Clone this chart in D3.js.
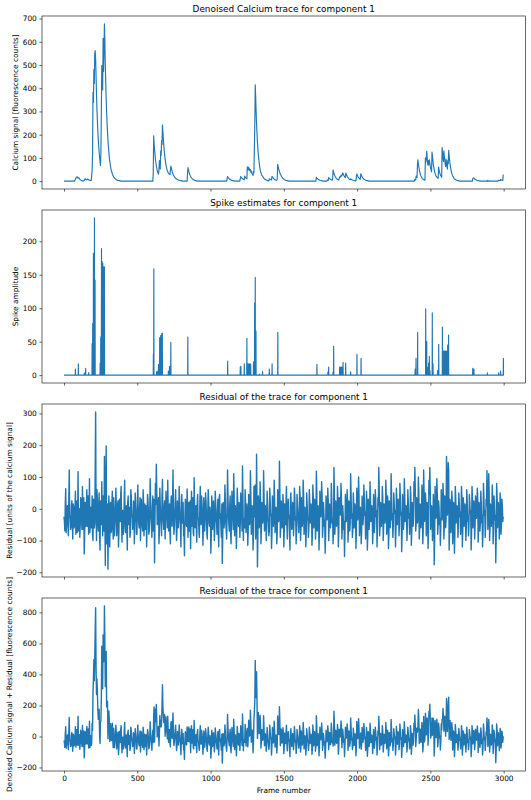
<!DOCTYPE html>
<html>
<head>
<meta charset="utf-8">
<script src="https://cdn.jsdelivr.net/npm/d3@7"></script>
<style>
  html, body { margin: 0; padding: 0; background: #fff; }
  svg { display: block; font-family: "DejaVu Sans", sans-serif; }
</style>
</head>
<body>
<svg id="fig" width="531" height="800"></svg>
<script>
// ---- data ----
const N_FRAMES = 3000;
const RES_STEP = 6; // residual sampled every 6 frames, plus a mid sample at +3

const xTicks = [0, 500, 1000, 1500, 2000, 2500, 3000];
const calciumTicks = [0, 100, 200, 300, 400, 500, 600, 700];
const spikeTicks = [0, 50, 100, 150, 200];
const residualTicks = [-200, -100, 0, 100, 200, 300];
const sumTicks = [-200, 0, 200, 400, 600, 800];

const titles = [
  'Denoised Calcium trace for component 1',
  'Spike estimates for component 1',
  'Residual of the trace for component 1',
  'Residual of the trace for component 1',
];
const yLabels = [
  'Calcium signal [fluorescence counts]',
  'Spike amplitude',
  'Residual [units of the calcium signal]',
  'Denoised Calcium signal + Residual [fluorescence counts]',
];
const xLabel = 'Frame number';

// denoised calcium: [frame, value]; frames not listed sit on the 0 baseline
const calciumPts = [
  [78, 8], [81, 12], [84, 17], [87, 18], [90, 19], [93, 16], [96, 13], [99, 14], [102, 14], [105, 11],
  [108, 8], [111, 6], [114, 5], [117, 4], [120, 3], [126, 1],
  [138, 4], [141, 7], [144, 10], [147, 9], [150, 7], [153, 6], [156, 5], [159, 7], [162, 9], [165, 8],
  [168, 6], [171, 5], [174, 4], [177, 3], [180, 3], [186, 2],
  [192, 45], [195, 120], [198, 382], [201, 338], [204, 480], [207, 420], [210, 550], [213, 562],
  [216, 525], [219, 450], [222, 370], [225, 310], [228, 260], [231, 215], [234, 180], [237, 150],
  [240, 125], [243, 103], [246, 85], [249, 68], [252, 120], [255, 300], [258, 497], [261, 440],
  [264, 393], [267, 615], [270, 472], [273, 560], [276, 677], [279, 600], [282, 500], [285, 420],
  [288, 350], [291, 300], [294, 250], [297, 210], [300, 175], [303, 150], [306, 125], [309, 105],
  [312, 88], [315, 75], [318, 62], [321, 52], [324, 44], [327, 37], [330, 31], [333, 26], [336, 22],
  [339, 18], [342, 15], [345, 13], [348, 11], [351, 9], [354, 8], [357, 6], [360, 5], [363, 5],
  [366, 4], [369, 3], [372, 3], [378, 2], [384, 1],
  [606, 0], [609, 30], [612, 195], [615, 160], [618, 135], [621, 115], [624, 95], [627, 80], [630, 66],
  [633, 56], [636, 47], [639, 40], [642, 34], [645, 30], [648, 48], [651, 88], [654, 70], [657, 52],
  [660, 130], [663, 112], [666, 175], [669, 158], [672, 242], [675, 212], [678, 182], [681, 155],
  [684, 132], [687, 112], [690, 96], [693, 82], [696, 70], [699, 60], [702, 52], [705, 45], [708, 40],
  [711, 36], [714, 33], [717, 31], [720, 30], [723, 29], [726, 44], [729, 65], [732, 57], [735, 49],
  [738, 42], [741, 36], [744, 30], [747, 26], [750, 22], [753, 19], [756, 16], [759, 14], [762, 12],
  [765, 10], [768, 9], [771, 8], [774, 7], [777, 6], [780, 5], [783, 4], [786, 4], [792, 3], [798, 2],
  [804, 1],
  [840, 0], [843, 30], [846, 58], [849, 50], [852, 42], [855, 35], [858, 29], [861, 24], [864, 20],
  [867, 17], [870, 14], [873, 12], [876, 10], [879, 8], [882, 7], [885, 6], [888, 5], [894, 3],
  [900, 2], [906, 1],
  [1110, 0], [1116, 20], [1119, 17], [1122, 14], [1125, 12], [1128, 10], [1131, 8], [1134, 7],
  [1137, 6], [1140, 5], [1146, 3], [1152, 2], [1158, 1],
  [1200, 0], [1203, 12], [1206, 20], [1209, 17], [1212, 14], [1215, 12], [1218, 10], [1221, 9],
  [1224, 8], [1227, 7], [1230, 6], [1233, 22], [1236, 18], [1239, 15], [1242, 13], [1245, 11],
  [1248, 10], [1251, 62], [1254, 48], [1257, 55], [1260, 60], [1263, 47], [1266, 52], [1269, 45],
  [1272, 50], [1275, 38], [1278, 43], [1281, 37], [1284, 32], [1287, 28], [1290, 25], [1293, 42],
  [1296, 36], [1299, 140], [1302, 250], [1305, 415], [1308, 360], [1311, 300], [1314, 245],
  [1317, 205], [1320, 170], [1323, 140], [1326, 115], [1329, 95], [1332, 78], [1335, 64], [1338, 52],
  [1341, 43], [1344, 36], [1347, 30], [1350, 25], [1353, 23], [1356, 21], [1359, 17], [1362, 14],
  [1365, 12], [1368, 10], [1371, 8], [1374, 7], [1377, 6], [1380, 5], [1386, 3], [1392, 2], [1398, 1],
  [1401, 10], [1404, 9], [1407, 8], [1410, 7], [1413, 6], [1416, 5], [1419, 20], [1422, 18],
  [1425, 15], [1428, 13], [1431, 11], [1434, 9], [1437, 7], [1440, 6], [1443, 5], [1446, 4],
  [1452, 3], [1455, 10], [1458, 72], [1461, 64], [1464, 55], [1467, 48], [1470, 42], [1473, 36],
  [1476, 31], [1479, 27], [1482, 23], [1485, 20], [1488, 17], [1491, 14], [1494, 12], [1497, 10],
  [1500, 9], [1503, 7], [1506, 6], [1509, 5], [1512, 4], [1518, 3], [1524, 2], [1530, 1],
  [1719, 0], [1722, 16], [1725, 13], [1728, 11], [1731, 9], [1734, 8], [1737, 7], [1740, 6],
  [1746, 4], [1752, 3], [1758, 2], [1764, 1],
  [1794, 0], [1797, 5], [1800, 4], [1803, 3], [1806, 15], [1809, 13], [1812, 11], [1815, 9],
  [1818, 8], [1821, 7], [1824, 6], [1827, 5], [1830, 4], [1833, 8], [1836, 48], [1839, 40],
  [1842, 33], [1845, 28], [1848, 23], [1851, 19], [1854, 16], [1857, 13], [1860, 11], [1863, 9],
  [1866, 8], [1869, 7], [1872, 6], [1875, 5], [1878, 12], [1881, 18], [1884, 16], [1887, 22],
  [1890, 20], [1893, 26], [1896, 23], [1899, 27], [1902, 36], [1905, 31], [1908, 27], [1911, 23],
  [1914, 20], [1917, 17], [1920, 15], [1923, 35], [1926, 30], [1929, 25], [1932, 21], [1935, 18],
  [1938, 15], [1941, 12], [1944, 10], [1947, 8], [1950, 7], [1953, 6], [1956, 10], [1959, 8],
  [1962, 7], [1965, 6], [1968, 5], [1974, 4], [1980, 3], [1986, 2], [1992, 1],
  [1998, 31], [2001, 26], [2004, 22], [2007, 18], [2010, 15], [2013, 13], [2016, 11], [2019, 9],
  [2022, 8], [2025, 32], [2028, 28], [2031, 23], [2034, 19], [2037, 16], [2040, 13], [2043, 11],
  [2046, 9], [2049, 7], [2052, 6], [2055, 5], [2058, 4], [2064, 3], [2070, 2], [2076, 1],
  [2391, 0], [2394, 8], [2397, 7], [2400, 5], [2403, 22], [2406, 18], [2409, 16], [2412, 76],
  [2415, 92], [2418, 74], [2421, 61], [2424, 50], [2427, 41], [2430, 33], [2433, 27], [2436, 22],
  [2439, 18], [2442, 15], [2445, 12], [2448, 10], [2451, 8], [2454, 7], [2457, 6], [2460, 5],
  [2463, 4], [2466, 100], [2469, 82], [2472, 95], [2475, 128], [2478, 100], [2481, 80], [2484, 68],
  [2487, 88], [2490, 72], [2493, 92], [2496, 78], [2499, 64], [2502, 55], [2505, 47], [2508, 40],
  [2511, 125], [2514, 108], [2517, 90], [2520, 72], [2523, 60], [2526, 50], [2529, 41], [2532, 34],
  [2535, 28], [2538, 23], [2541, 20], [2544, 17], [2547, 15], [2550, 14], [2553, 12], [2556, 60],
  [2559, 50], [2562, 40], [2565, 33], [2568, 28], [2571, 23], [2574, 20], [2577, 17], [2580, 145],
  [2583, 120], [2586, 100], [2589, 85], [2592, 130], [2595, 108], [2598, 90], [2601, 75], [2604, 62],
  [2607, 95], [2610, 80], [2613, 65], [2616, 52], [2619, 90], [2622, 75], [2625, 133], [2628, 110],
  [2631, 90], [2634, 74], [2637, 61], [2640, 50], [2643, 41], [2646, 34], [2649, 28], [2652, 23],
  [2655, 19], [2658, 15], [2661, 12], [2664, 10], [2667, 8], [2670, 7], [2673, 6], [2676, 5],
  [2682, 3], [2688, 2], [2694, 1],
  [2787, 0], [2790, 12], [2793, 13], [2796, 14], [2799, 12], [2802, 10], [2805, 8], [2808, 7],
  [2811, 6], [2814, 5], [2820, 3], [2826, 2], [2832, 1],
  [2886, 0], [2889, 3], [2895, 2], [2901, 1],
  [2961, 0], [2964, 4], [2970, 3], [2976, 2], [2979, 7], [2982, 6], [2985, 5], [2988, 4], [2991, 3],
  [2994, 3], [2997, 27], [2999, 28],
];

// deconvolved spikes: [frame, amplitude]; all other frames are 0
const spikePts = [
  [78, 9], [98, 17], [139, 3], [148, 10], [169, 4], [192, 47], [196, 77], [201, 182], [208, 235],
  [212, 142], [247, 18], [251, 57], [256, 189], [260, 170], [265, 167], [272, 162], [276, 162],
  [610, 31], [613, 159], [632, 5], [640, 6], [645, 16], [653, 56], [660, 59], [667, 62], [671, 63],
  [712, 6], [720, 13], [729, 49], [845, 57], [1117, 21], [1203, 12], [1207, 13], [1230, 17],
  [1248, 55], [1254, 17], [1258, 16], [1262, 17], [1266, 16], [1270, 17], [1274, 16], [1293, 20],
  [1301, 108], [1305, 146], [1310, 66], [1334, 1.5], [1355, 5.5], [1401, 9], [1420, 17], [1459, 64],
  [1726, 16], [1801, 4.5], [1806, 12], [1836, 4.5], [1840, 43], [1881, 12], [1885, 12], [1889, 11],
  [1893, 12], [1897, 12], [1904, 19], [1922, 18], [1956, 5], [1999, 31], [2027, 25],
  [2396, 9], [2402, 25], [2413, 64], [2468, 99], [2475, 50], [2484, 12], [2488, 18], [2493, 28],
  [2497, 7], [2513, 93], [2518, 17], [2549, 7], [2557, 46], [2582, 72], [2587, 36], [2592, 36],
  [2598, 36], [2604, 36], [2611, 36], [2618, 45], [2624, 60], [2789, 10], [2797, 9], [2889, 3.5],
  [2966, 3.5], [2979, 6], [2998, 25],
];

// residual at frames 0, 6, 12, ... (index * 6)
const residual = [
  -25, -70, 63, -40, 10, -85, 122, -30, -60, 25,
  -95, 5, -50, 55, -20, -75, 117, -10, -90, 35,
  -40, 70, -65, -142, 20, -55, 60, -30, -80, 95,
  -15, -60, 40, -100, 15, -45, 305, -100, 30, -70,
  50, -130, -20, 85, -85, 10, 165, -178, 198, -60,
  -190, 40, -120, 20, -70, 55, -95, 0, -50, 65,
  -85, 15, -120, 30, -40, 70, -105, -5, -60, 90,
  -75, 10, -130, 40, -30, -90, 60, -15, -65, 25,
  -110, 50, -20, -80, 75, -45, 5, -100, 30, -55,
  60, -85, 15, -40, -120, 45, -10, -70, 95, -30,
  -90, 40, -60, -170, 80, 140, -50, 20, -110, 65,
  -25, -85, 92, -45, 10, -95, 55, -20, 90, -70,
  15, -110, 40, -55, 122, -80, -15, 60, -100, 25,
  -60, 70, -35, -120, 45, -10, -85, -148, 30, -50,
  62, -90, 20, -40, -125, 55, -15, -75, 98, -60,
  10, -105, 45, -30, -90, 70, -50, 15, -115, 35,
  -70, 50, -20, -95, 60, -45, 5, -140, 40, -65,
  25, -100, 55, -35, -80, 30, -120, 45, -15, -90,
  -172, 20, -60, 75, -40, -95, 122, -25, -70, 40,
  -110, 55, -30, 110, -85, 10, -125, 65, -45, 20,
  -90, 50, -20, 135, -100, -35, 60, -75, 15, -115,
  45, -50, 120, -80, 10, -130, 70, -25, -95, 172,
  -183, 40, -60, 85, -110, 20, -45, 120, -70, 10,
  -100, 55, -30, -85, 65, -15, -125, 40, -55, 90,
  -75, 5, -110, 60, -40, 150, -90, 25, -60, 45,
  -120, 15, -50, 70, -95, 30, -20, -130, 50, -65,
  20, -85, 65, -35, -110, 45, -10, -75, 70, -100,
  35, -55, 90, -80, 5, -120, 50, -30, -90, 60,
  -45, 15, -115, 75, -60, 30, -95, 118, -70, 10,
  -130, 55, -25, 85, -90, 20, -55, -140, 40, -35,
  65, -100, 15, -60, 80, -45, -110, 130, -80, 25,
  -55, 70, -120, 35, -20, 80, -95, 10, -65, -150,
  45, -40, 60, -105, 25, -70, 110, -30, -90, 50,
  -60, 15, -125, 65, -35, 100, -85, 5, -110, 40,
  -50, 75, -20, -95, 55, -130, 30, -65, 85, -40,
  10, -110, 45, -75, 60, -25, -120, 35, 130, -85,
  20, -55, 70, -100, 15, -45, 90, -80, 40, -125,
  25, -60, 110, -35, -90, 50, -15, -120, 65, -50,
  30, -85, 80, -20, -135, 45, -65, 95, -40, 10,
  -100, 60, -30, -80, 70, -115, 20, -55, 85, 130,
  -70, 35, -45, 100, -95, 15, -60, 75, -110, 122,
  -40, 50, -85, 20, -125, 90, 130, -65, 10, -100,
  45, -176, 70, -30, 95, -80, 25, -50, -115, 60,
  -35, 80, -95, 40, -60, 165, -20, 145, -130, 30,
  -75, 55, -110, 20, -140, 70, -45, 10, -90, 50,
  -25, -80, 70, -120, 35, -55, 15, -100, 60, -40,
  -85, 45, -15, -130, 70, -60, 25, -95, 40, -30,
  65, -105, 20, -70, 55, -45, -120, 80, -20, -90,
  30, 120, -65, 110, -100, 15, -55, 75, -110, 40,
  -35, -170, 80, -60, 20, -95, 50, -80, 30, -40,
];

// residual at frames 3, 9, 15, ... (index * 6 + 3)
const residualMid = [
  -40, 20, -75, 5, -55, 30, -20, -65, 10, -45,
  15, -60, -5, -80, 25, -35, -70, 0, -50, 20,
  -65, -10, 35, -85, -30, 10, -55, 40, -20, -75,
  5, -45, -80, 30, -60, 120, -15, 60, -40, -5,
  -90, 25, -50, -20, 40, -70, -10, 80, -110, 15,
  -60, 5, -30, -75, 20, -50, 35, -85, -15, 10,
  -55, 25, -70, -20, 45, -45, -5, -80, 30, -35,
  -10, -65, 20, -50, 5, -75, 40, -30, -55, 15,
  -45, 10, -80, 25, -25, -60, 35, -40, -5, -70,
  20, -35, -65, 10, -50, 30, -80, -15, 25, -55,
  5, -70, 30, -25, 15, 60, -40, 35, -75, 10,
  -50, 45, -20, -65, 25, -35, 20, -60, 5, -30,
  -75, 15, -45, 30, -10, -60, 25, -35, -70, 10,
  -25, 30, -65, -5, -45, 20, -80, -30, 15, -55,
  10, -40, -70, 25, -20, -55, 35, -85, 5, -35,
  -60, 20, -30, -75, 15, -45, 40, -20, -65, 5,
  -35, 25, -80, -10, 30, -55, -25, -90, 10, -40,
  -20, -65, 20, -45, -5, -75, 35, -30, -60, 15,
  -95, 5, -40, 25, -70, -15, 40, -50, 10, -80,
  -30, 20, -65, 45, -40, -10, -75, 25, -55, 0,
  -45, 15, -70, 40, -30, -60, 20, -40, -10, -75,
  15, -35, 45, -55, -20, -80, 25, 75, -50, 30,
  -90, 10, -40, 30, -65, -5, -30, 40, -55, -15,
  -60, 20, -45, -70, 25, -25, -80, 10, -40, 35,
  -50, -10, -75, 20, -35, 60, -60, 5, -45, 15,
  -70, -20, 25, -55, 0, -30, -85, 30, -15, -60,
  10, -45, 35, -25, -70, 15, -50, -30, 40, -65,
  -5, -35, 45, -60, -15, -75, 20, -40, -55, 25,
  -30, 5, -80, 35, -45, 10, -60, 50, -40, -20,
  -75, 20, -10, 40, -55, -5, -35, -85, 15, -25,
  25, -60, -15, -40, 35, -30, -70, 55, -45, 5,
  -35, 30, -75, 10, -5, 40, -55, -20, -40, -80,
  10, -20, 25, -60, 5, -45, 45, -15, -65, 20,
  -40, -5, -75, 30, -20, 45, -50, -10, -70, 15,
  -25, 35, -10, -60, 20, -80, 5, -35, 40, -20,
  -15, -65, 15, -40, 30, -5, -70, 10, 60, -50,
  -5, -30, 35, -60, -10, -25, 40, -45, 15, -75,
  5, -35, 50, -15, -55, 20, -5, -70, 30, -25,
  10, -50, 40, -10, -80, 15, -40, 45, -25, -5,
  -55, 25, -15, -45, 35, -70, -5, -30, 40, 60,
  -45, 10, -25, 55, -60, 5, -35, 40, -70, 50,
  -20, 25, -55, 0, -75, 45, 60, -40, -5, -60,
  15, -100, 35, -15, 50, -45, 5, -30, -65, 25,
  -10, 45, -55, 20, -35, 100, 5, 120, -70, 10,
  -45, 25, -60, 5, -80, 35, -20, -5, -55, 20,
  -10, -50, 40, -70, 15, -35, -5, -60, 30, -20,
  -55, 20, -5, -75, 35, -40, 10, -55, 20, -15,
  35, -60, 5, -45, 25, -20, -75, 40, -5, -50,
  10, 60, -40, 50, -60, -5, -35, 30, -65, 15,
  -20, -90, 40, -35, 5, -55, 25, -45, 10, -25,
];

// ---- layout ----
const W = 531;
const H = 800;
const AX_LEFT = 42;
const AX_RIGHT = 525.5;
const AX_H = 173;
const AX_TOPS = [16, 210, 404, 598];
const FONT = 7.4;
const TITLE_FONT = 8.9;
const TICK_LEN = 2.6;
const TICK_PAD = 2.6;
const LINE_COLOR = '#1f77b4';
const FONT_FAMILY = '"DejaVu Sans", sans-serif';

// ---- series ----
const calcMap = new Map(calciumPts.map(([f, v]) => [f, v]));
const calcAt = (f) => calcMap.get(f) ?? 0;
const gridFrames = d3.range(0, N_FRAMES, RES_STEP);
const calcFrames = Array.from(new Set([...gridFrames, ...calciumPts.map((d) => d[0])])).sort((a, b) => a - b);
const calcSeries = calcFrames.map((f) => [f, calcAt(f)]);

const spikeArr = new Array(N_FRAMES).fill(0);
spikePts.forEach(([f, v]) => { spikeArr[f] = v; });
const spikeSeries = spikeArr.map((v, f) => [f, v]);

const residSeries = residual.flatMap((v, i) => [
  [i * RES_STEP, v],
  [i * RES_STEP + 3, residualMid[i]],
]);
const sumSeries = residSeries.map(([f, v]) => [f, calcAt(f) + v]);

// the noisy panels are sampled sparser than the 3000 frames, so a slightly
// heavier stroke stands in for the overplotted band
const panels = [
  { series: calcSeries, ticks: calciumTicks, width: 1.15 },
  { series: spikeSeries, ticks: spikeTicks, width: 1.15 },
  { series: residSeries, ticks: residualTicks, width: 1.4 },
  { series: sumSeries, ticks: sumTicks, width: 1.4 },
];

// matplotlib-like autoscale: data extent + 5% margins
function padExtent(vals) {
  const [lo, hi] = d3.extent(vals);
  const m = (hi - lo) * 0.05;
  return [lo - m, hi + m];
}

const svg = d3.select('#fig').attr('viewBox', `0 0 ${W} ${H}`);
const x = d3.scaleLinear().domain(padExtent([0, N_FRAMES - 1])).range([AX_LEFT, AX_RIGHT]);
const fmt = d3.format('d');

function styleAxis(g) {
  g.select('.domain').remove();
  g.attr('font-size', FONT).attr('font-family', FONT_FAMILY);
  g.selectAll('.tick line').attr('stroke', '#000').attr('stroke-width', 0.6);
  g.selectAll('.tick text').attr('fill', '#000');
}

panels.forEach((p, i) => {
  const top = AX_TOPS[i];
  const bottom = top + AX_H;
  const y = d3.scaleLinear().domain(padExtent(p.series.map((d) => d[1]))).range([bottom, top]);
  const g = svg.append('g').attr('class', 'panel');

  const line = d3.line().x((d) => x(d[0])).y((d) => y(d[1]));
  g.append('path')
    .datum(p.series)
    .attr('d', line)
    .attr('fill', 'none')
    .attr('stroke', LINE_COLOR)
    .attr('stroke-width', p.width)
    .attr('stroke-linejoin', 'round');

  const yAxis = g.append('g')
    .attr('transform', `translate(${AX_LEFT},0)`)
    .call(d3.axisLeft(y).tickValues(p.ticks).tickSize(TICK_LEN).tickPadding(TICK_PAD).tickFormat(fmt))
    .call(styleAxis);

  const last = i === panels.length - 1;
  g.append('g')
    .attr('transform', `translate(0,${bottom})`)
    .call(d3.axisBottom(x).tickValues(xTicks).tickSize(TICK_LEN).tickPadding(TICK_PAD)
      .tickFormat(last ? fmt : () => ''))
    .call(styleAxis);

  // spines
  g.append('rect')
    .attr('x', AX_LEFT).attr('y', top)
    .attr('width', AX_RIGHT - AX_LEFT).attr('height', AX_H)
    .attr('fill', 'none').attr('stroke', '#000').attr('stroke-width', 0.6);

  g.append('text')
    .attr('x', (AX_LEFT + AX_RIGHT) / 2)
    .attr('y', top - 4.4)
    .attr('text-anchor', 'middle')
    .attr('font-size', TITLE_FONT)
    .attr('font-family', FONT_FAMILY)
    .attr('fill', '#000')
    .text(titles[i]);

  // ylabel sits just left of the tick labels, like matplotlib
  const bb = yAxis.node().getBBox();
  const lx = bb.x + AX_LEFT - 2.96 - FONT * 0.236;
  g.append('text')
    .attr('transform', `translate(${lx},${(top + bottom) / 2}) rotate(-90)`)
    .attr('text-anchor', 'middle')
    .attr('font-size', FONT)
    .attr('font-family', FONT_FAMILY)
    .attr('fill', '#000')
    .text(yLabels[i]);

  if (last) {
    svg.append('text')
      .attr('x', (AX_LEFT + AX_RIGHT) / 2)
      .attr('y', bottom + TICK_LEN + TICK_PAD + FONT * 1.17 + 2.96 + FONT * 0.76)
      .attr('text-anchor', 'middle')
      .attr('font-size', FONT)
      .attr('font-family', FONT_FAMILY)
      .attr('fill', '#000')
      .text(xLabel);
  }
});
</script>
</body>
</html>
